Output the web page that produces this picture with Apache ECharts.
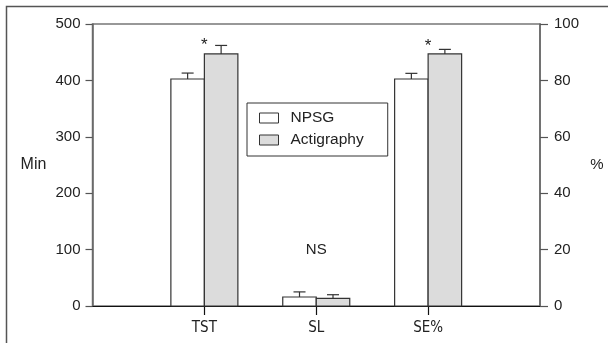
<!DOCTYPE html>
<html>
<head>
<meta charset="utf-8">
<script src="https://cdn.jsdelivr.net/npm/echarts@6/dist/echarts.min.js"></script>
<style>html,body{margin:0;padding:0;background:#fff;}#c{width:608px;height:343px;}</style>
</head>
<body>
<div id="c"></div>
<script>
// ---- data ----
const categories = ['', 'TST', 'SL', 'SE%', ''];
// minutes (left axis): [categoryIndex, mean, upper error end]
const npsgMin = [[1, 402.5, 413], [2, 16, 25]];
const actiMin = [[1, 447, 462], [2, 13.5, 20]];
// percent (right axis)
const npsgPct = [[3, 80.5, 82.5]];
const actiPct = [[3, 89.4, 91]];
// annotations on the minutes axis: [categoryIndex, value]
const notePos = [[1, 468], [2, 100], [3, 466]];
const noteText = ['*', 'NS', '*'];
const leftAxis = {min: 0, max: 500, interval: 100, name: 'Min'};
const rightAxis = {min: 0, max: 100, interval: 20, name: '%'};

const FONT = 'Liberation Sans';
const BAR_W = 33.5;

function barRenderer(side, fill) {
  return function (params, api) {
    const x = api.value(0), v = api.value(1), e = api.value(2);
    const p0 = api.coord([x, 0]);
    const p1 = api.coord([x, v]);
    const pe = api.coord([x, e]);
    const left = side < 0 ? p0[0] - BAR_W : p0[0];
    const cx = left + BAR_W / 2;
    return {
      type: 'group',
      children: [
        {type: 'rect', shape: {x: left, y: p1[1], width: BAR_W, height: p0[1] - p1[1]},
         style: {fill: fill, stroke: '#333', lineWidth: 1.2}},
        {type: 'line', shape: {x1: cx, y1: p1[1], x2: cx, y2: pe[1]},
         style: {stroke: '#333', lineWidth: 1.2}},
        {type: 'line', shape: {x1: cx - 6, y1: pe[1], x2: cx + 6, y2: pe[1]},
         style: {stroke: '#333', lineWidth: 1.2}}
      ]
    };
  };
}

const chart = echarts.init(document.getElementById('c'), null, {renderer: 'canvas'});
const npsgStyle = {color: '#ffffff', borderColor: '#333', borderWidth: 1};
const actiStyle = {color: '#dcdcdc', borderColor: '#333', borderWidth: 1};

chart.setOption({
  animation: false,
  textStyle: {fontFamily: FONT},
  grid: {left: 92.5, right: 68, top: 24, bottom: 37, show: true, borderColor: '#777', borderWidth: 1.5, backgroundColor: 'transparent'},
  legend: {
    orient: 'vertical', left: 247, top: 103,
    padding: [7, 24, 8, 12],
    borderColor: '#333', borderWidth: 1,
    itemWidth: 19, itemHeight: 10, itemGap: 6,
    selectedMode: false,
    textStyle: {fontSize: 15.5, color: '#222', lineHeight: 16, padding: [0, 0, 0, 7], fontFamily: FONT},
    data: [
      {name: 'NPSG', icon: 'rect', itemStyle: npsgStyle},
      {name: 'Actigraphy', icon: 'rect', itemStyle: actiStyle}
    ]
  },
  xAxis: {
    type: 'category', data: categories, boundaryGap: false,
    axisLine: {lineStyle: {color: '#111', width: 1.2}},
    axisTick: {interval: function (i) { return i >= 1 && i <= 3; }, length: 9, lineStyle: {color: '#111', width: 1.2}},
    axisLabel: {interval: 0, fontSize: 15, color: '#222', margin: 15, fontFamily: "'DejaVu Sans Condensed', 'Liberation Sans'"}
  },
  yAxis: [
    {
      type: 'value', min: leftAxis.min, max: leftAxis.max, interval: leftAxis.interval,
      name: leftAxis.name, nameLocation: 'middle', nameGap: 59, nameRotate: 0,
      nameTextStyle: {fontSize: 16, color: '#222', fontFamily: FONT, align: 'center'},
      axisLine: {show: true, lineStyle: {color: '#666', width: 1.5}},
      axisTick: {show: true, length: 7, lineStyle: {color: '#555', width: 1.2}},
      axisLabel: {fontSize: 15, color: '#222', margin: 12, fontFamily: FONT},
      splitLine: {show: false}
    },
    {
      type: 'value', position: 'right', min: rightAxis.min, max: rightAxis.max, interval: rightAxis.interval,
      name: rightAxis.name, nameLocation: 'middle', nameGap: 57, nameRotate: 0,
      nameTextStyle: {fontSize: 15, color: '#222', fontFamily: FONT, align: 'center'},
      axisLine: {show: true, lineStyle: {color: '#666', width: 1.5}},
      axisTick: {show: true, length: 8, lineStyle: {color: '#555', width: 1.2}},
      axisLabel: {fontSize: 15, color: '#222', margin: 14, fontFamily: FONT},
      splitLine: {show: false}
    }
  ],
  series: [
    {type: 'custom', name: 'NPSG', yAxisIndex: 0, data: npsgMin, encode: {x: 0, y: 1}, itemStyle: npsgStyle, renderItem: barRenderer(-1, '#ffffff')},
    {type: 'custom', name: 'Actigraphy', yAxisIndex: 0, data: actiMin, encode: {x: 0, y: 1}, itemStyle: actiStyle, renderItem: barRenderer(1, '#dcdcdc')},
    {type: 'custom', name: 'NPSG', yAxisIndex: 1, data: npsgPct, encode: {x: 0, y: 1}, itemStyle: npsgStyle, renderItem: barRenderer(-1, '#ffffff')},
    {type: 'custom', name: 'Actigraphy', yAxisIndex: 1, data: actiPct, encode: {x: 0, y: 1}, itemStyle: actiStyle, renderItem: barRenderer(1, '#dcdcdc')},
    {type: 'custom', name: 'notes', yAxisIndex: 0, data: notePos, encode: {x: 0, y: 1}, silent: true,
     renderItem: function (params, api) {
       const p = api.coord([api.value(0), api.value(1)]);
       const t = noteText[params.dataIndex];
       const star = t === '*';
       return {type: 'text', x: p[0], y: p[1] + (star ? 3 : 0),
               style: {text: t, fontSize: star ? 17 : 15, fill: '#222', fontFamily: FONT, align: 'center', verticalAlign: 'middle'}};
     }}
  ],
  graphic: [
    {type: 'polyline', silent: true, shape: {points: [[6.5, 343], [6.5, 6.5], [608, 6.5]]},
     style: {stroke: '#555', lineWidth: 1.5, fill: null}}
  ]
});
</script>
</body>
</html>
